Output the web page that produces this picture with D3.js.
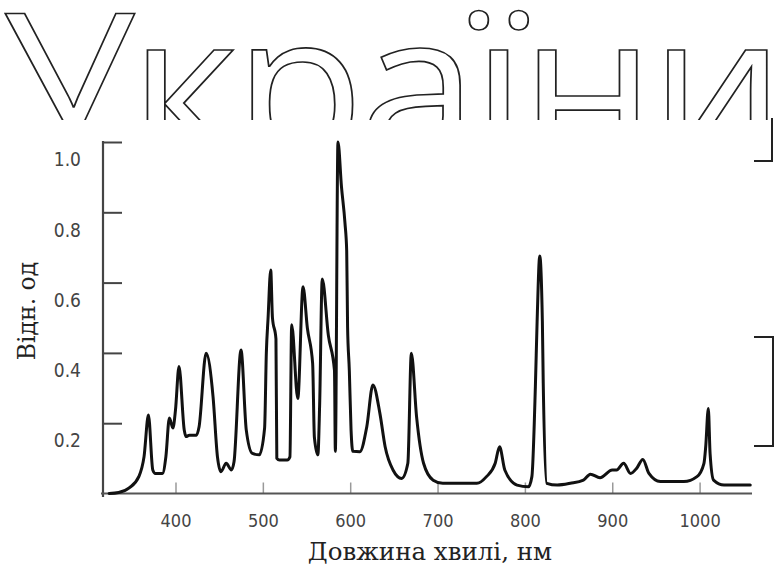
<!DOCTYPE html>
<html>
<head>
<meta charset="utf-8">
<script src="https://cdn.jsdelivr.net/npm/d3@7"></script>
<style>
  html, body { margin: 0; padding: 0; background: #fff; }
  svg { display: block; }
</style>
</head>
<body>
<svg id="chart" width="784" height="566"></svg>
<script>
// Emission spectrum: wavelength (nm) and relative intensity
const wavelengths = [324, 335, 347, 358, 364, 369, 374, 377, 385, 389, 393, 397, 400, 404,
  410, 412, 416, 424, 427, 435, 443, 448, 452, 458, 464, 467, 475, 481, 488, 496,
  502, 504, 506, 509, 511, 515, 516, 519, 528, 531, 533, 540, 546, 551, 557, 559,
  563, 565, 568, 575, 582, 583, 586, 590, 594, 596, 597, 599, 601, 603, 611, 619,
  626, 634, 640, 649, 659, 666, 670, 676, 684, 695, 706, 745, 756, 766, 771, 777,
  791, 804, 808, 812, 814, 817, 820, 821, 825, 837, 852, 867, 875, 886, 900, 905,
  913, 921, 928, 935, 942, 955, 982, 997, 1005, 1007, 1010, 1012, 1016, 1028, 1058];
const intensity = [0.00, 0.003, 0.016, 0.048, 0.105, 0.223, 0.067, 0.057, 0.057, 0.105, 0.215, 0.186, 0.238, 0.361,
  0.181, 0.162, 0.166, 0.166, 0.19, 0.399, 0.275, 0.105, 0.062, 0.086, 0.067, 0.09, 0.408, 0.181, 0.114, 0.11,
  0.186, 0.40, 0.50, 0.636, 0.50, 0.44, 0.10, 0.095, 0.095, 0.104, 0.48, 0.27, 0.588, 0.47, 0.37, 0.16,
  0.11, 0.25, 0.61, 0.45, 0.35, 0.12, 1.0, 0.873, 0.77, 0.69, 0.475, 0.35, 0.18, 0.12, 0.119, 0.19,
  0.309, 0.228, 0.133, 0.067, 0.043, 0.086, 0.399, 0.218, 0.086, 0.038, 0.029, 0.029, 0.048, 0.086, 0.133, 0.067,
  0.024, 0.019, 0.048, 0.304, 0.49, 0.676, 0.49, 0.314, 0.029, 0.024, 0.029, 0.038, 0.055, 0.045, 0.067, 0.067,
  0.086, 0.057, 0.072, 0.097, 0.057, 0.034, 0.034, 0.048, 0.086, 0.133, 0.242, 0.114, 0.038, 0.024, 0.024];

const xTicks = [400, 500, 600, 700, 800, 900, 1000];
const yTicks = [0.2, 0.4, 0.6, 0.8, 1.0];
const heading = "України";
const xTitle = "Довжина хвилі, нм";
const yTitle = "Відн. од";

const svg = d3.select("#chart");

const x = d3.scaleLinear().domain([317, 1060]).range([103, 752]);
const y = d3.scaleLinear().domain([0, 1]).range([493.5, 142]);

// Large outlined heading, cut off along its lower part
svg.append("defs").append("clipPath").attr("id", "headClip")
  .append("rect").attr("x", 0).attr("y", 0).attr("width", 784).attr("height", 120);

svg.append("g").attr("clip-path", "url(#headClip)")
  .append("g").attr("transform", "scale(1.04,1)")
  .append("text")
    .attr("x", 3)
    .attr("y", 160)
    .attr("font-family", "'Open Sans', sans-serif")
    .attr("font-size", 205)
    .attr("textLength", 752)
    .attr("lengthAdjust", "spacing")
    .attr("fill", "#fff")
    .attr("stroke", "#222")
    .attr("stroke-width", 1.7)
    .attr("vector-effect", "non-scaling-stroke")
    .text(heading);

// Bracket marks on the right
const bracketLine = d3.line();
svg.append("path")
  .attr("d", bracketLine([[772, 118], [772, 161], [754, 161]]))
  .attr("fill", "none").attr("stroke", "#222").attr("stroke-width", 2);
svg.append("path")
  .attr("d", bracketLine([[754, 337], [773, 337], [773, 446], [754, 446]]))
  .attr("fill", "none").attr("stroke", "#222").attr("stroke-width", 2);

// Y axis: inward ticks, labels set slightly below their ticks
const yAxis = d3.axisLeft(y)
  .tickValues(yTicks)
  .tickSizeInner(-19)
  .tickSizeOuter(0)
  .tickPadding(22)
  .tickFormat(d3.format(".1f"));

const gy = svg.append("g").attr("transform", "translate(103,0)").call(yAxis);
gy.select(".domain").remove();
gy.selectAll(".tick line").attr("stroke", "#444").attr("stroke-width", 2);
gy.selectAll(".tick text")
  .attr("dy", "1.25em")
  .attr("fill", "#444")
  .attr("font-family", "'DejaVu Sans Condensed', 'DejaVu Sans', sans-serif")
  .attr("font-size", 19);

// X axis: short inward ticks
const xAxis = d3.axisBottom(x)
  .tickValues(xTicks)
  .tickSizeInner(-11)
  .tickSizeOuter(0)
  .tickPadding(21)
  .tickFormat(d3.format("d"));

const gx = svg.append("g").attr("transform", "translate(0,493.5)").call(xAxis);
gx.select(".domain").remove();
gx.selectAll(".tick line").attr("stroke", "#999").attr("stroke-width", 1.5);
gx.selectAll(".tick text")
  .attr("fill", "#444")
  .attr("font-family", "'DejaVu Sans Condensed', 'DejaVu Sans', sans-serif")
  .attr("font-size", 18);

// Axis lines
svg.append("line")
  .attr("x1", 103).attr("x2", 103).attr("y1", y(1) - 1).attr("y2", 497)
  .attr("stroke", "#444").attr("stroke-width", 2.2);
svg.append("line")
  .attr("x1", 101).attr("x2", 752).attr("y1", y(0)).attr("y2", y(0))
  .attr("stroke", "#555").attr("stroke-width", 2.2);

// Spectrum curve
const points = wavelengths.map((w, i) => [w, intensity[i]]);
const line = d3.line()
  .x(d => x(d[0]))
  .y(d => y(d[1]))
  .curve(d3.curveMonotoneX);

svg.append("path")
  .datum(points)
  .attr("d", line)
  .attr("fill", "none")
  .attr("stroke", "#111")
  .attr("stroke-width", 3)
  .attr("stroke-linejoin", "round")
  .attr("stroke-linecap", "round");

// Axis titles
svg.append("text")
  .attr("x", 430)
  .attr("y", 560)
  .attr("text-anchor", "middle")
  .attr("font-family", "'DejaVu Serif', serif")
  .attr("font-size", 24.5)
  .attr("fill", "#222")
  .text(xTitle);

svg.append("text")
  .attr("transform", "translate(35,311) rotate(-90)")
  .attr("text-anchor", "middle")
  .attr("font-family", "'DejaVu Serif', serif")
  .attr("font-size", 23.5)
  .attr("fill", "#222")
  .text(yTitle);
</script>
</body>
</html>
